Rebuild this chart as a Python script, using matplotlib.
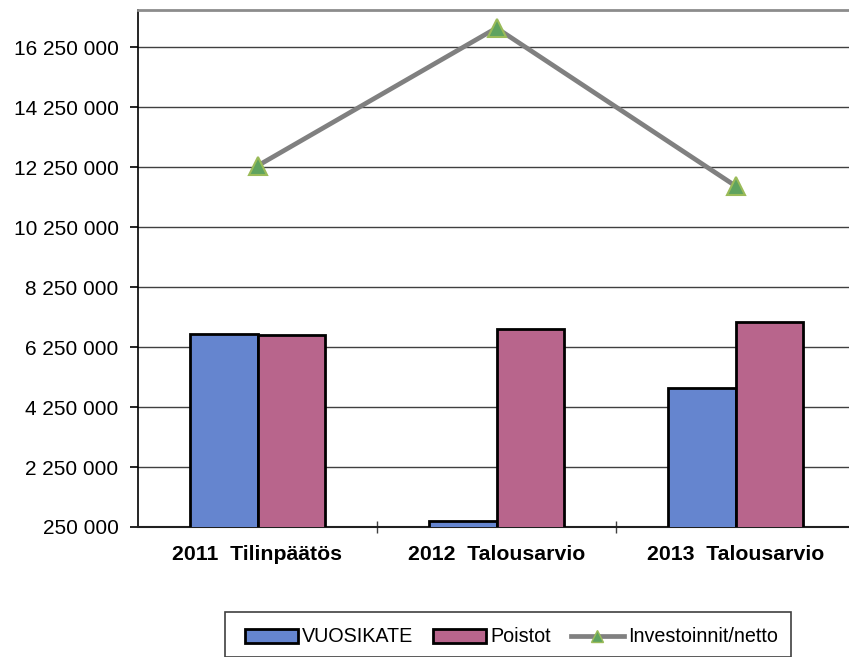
import matplotlib
matplotlib.use("Agg")
import matplotlib.pyplot as plt
import numpy as np
from matplotlib.patches import Patch, Rectangle
from matplotlib.lines import Line2D
from matplotlib.ticker import FuncFormatter

categories = ["2011  Tilinpäätös", "2012  Talousarvio", "2013  Talousarvio"]
vuosikate = [6683000, 450000, 4894000]
poistot = [6672000, 6861000, 7083000]
investoinnit = [12300000, 16900000, 11630000]
yticks = list(range(250000, 16250001, 2000000))

plt.rcParams['font.family'] = ['Liberation Sans', 'DejaVu Sans']

fig = plt.figure(figsize=(8.49, 6.57), dpi=100)
W, H = 849, 657
ax = fig.add_axes([138 / W, (H - 527) / H, (855 - 138) / W, (527 - 10) / H])

x = np.arange(len(categories))
bw = 0.2845
blue = '#6585CF'
pink = '#B8658C'
ax.bar(x - bw / 2, vuosikate, width=bw, color=blue, edgecolor='black',
       linewidth=2.0, zorder=3)
ax.bar(x + bw / 2, poistot, width=bw, color=pink, edgecolor='black', linewidth=2.0, zorder=3)

ax.plot(x, investoinnit, color='#808080', linewidth=3.4, zorder=4,
        marker='^', markersize=13, markerfacecolor='#5FA35F', markeredgecolor='#9BBB59',
        markeredgewidth=1.5)

ax.set_xlim(-0.5, 2.5)
ax.set_ylim(250000, 17500000)
ax.set_yticks(yticks)
ax.yaxis.set_major_formatter(FuncFormatter(lambda v, p: f"{int(v):,}".replace(",", " ")))
ax.grid(axis='y', color='#404040', linewidth=1.0, zorder=0)
ax.set_axisbelow(True)

ax.set_xticks(x)
ax.set_xticklabels(categories, fontsize=15.3, fontweight='bold')
ax.set_xticks([0.5, 1.5], minor=True)
ax.tick_params(axis='x', which='major', length=0, pad=13)
ax.tick_params(axis='x', which='minor', length=8, direction='inout', width=1, color='#404040')
ax.tick_params(axis='y', labelsize=15, length=6, direction='out', width=1.2, pad=8)

ax.spines['left'].set_color('black')
ax.spines['left'].set_linewidth(1.2)
ax.spines['bottom'].set_color('#202020')
ax.spines['bottom'].set_linewidth(1.5)
ax.spines['top'].set_color('#8C8C8C')
ax.spines['top'].set_linewidth(2)
ax.spines['right'].set_visible(False)

# legend frame
fig.add_artist(Rectangle((225 / W, 0), (791 - 225) / W, (H - 619) / H + 0.01,
                         transform=fig.transFigure, facecolor='none',
                         edgecolor='#404040', linewidth=1.2, clip_on=False))

handles = [Patch(facecolor=blue, edgecolor='black', linewidth=2.0),
           Patch(facecolor=pink, edgecolor='black', linewidth=2.0),
           Line2D([0], [0], color='#808080', linewidth=3.4, marker='^', markersize=9,
                  markerfacecolor='#5FA35F', markeredgecolor='#9BBB59')]
leg = fig.legend(handles, ["VUOSIKATE", "Poistot", "Investoinnit/netto"],
                 loc='center left', bbox_to_anchor=(245 / W, 1 - 637 / H), ncol=3,
                 fontsize=14.2, frameon=False,
                 handlelength=2.7, handleheight=0.7, handletextpad=0.2, columnspacing=1.0,
                 borderpad=0, borderaxespad=0)

fig.savefig("out.png", dpi=100)
